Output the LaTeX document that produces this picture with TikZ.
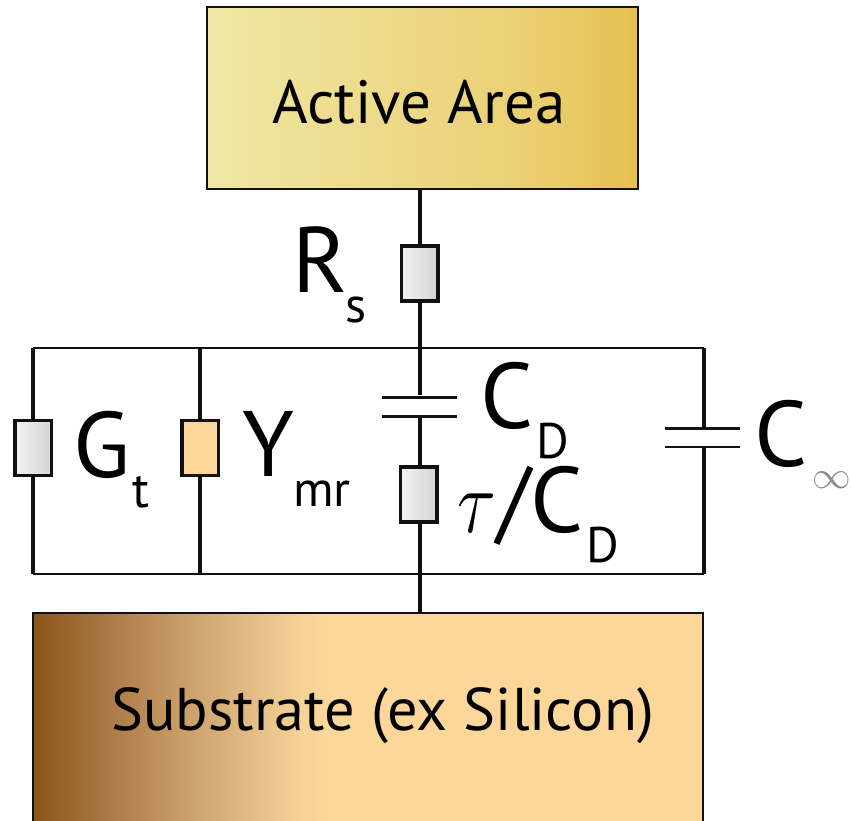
\documentclass[tikz,border=0pt]{standalone}
\usepackage{fontspec}
\setmainfont{PT Sans}
\usetikzlibrary{calc}
\definecolor{wire}{HTML}{111111}
\definecolor{activeL}{HTML}{EFE8A6}
\definecolor{activeK}{HTML}{EFE29A}
\definecolor{activeM}{HTML}{ECD785}
\definecolor{activeN}{HTML}{EBCF72}
\definecolor{activeR}{HTML}{E6C050}
\definecolor{subL}{HTML}{8A5518}
\definecolor{subK}{HTML}{B07F4C}
\definecolor{subM}{HTML}{CFA771}
\definecolor{subN}{HTML}{F6D298}
\definecolor{subR}{HTML}{FDD79A}
\pgfdeclarehorizontalshading{activeshade}{100bp}{color(0bp)=(activeL); color(25bp)=(activeL); color(33bp)=(activeK); color(50bp)=(activeM); color(62.5bp)=(activeN); color(75bp)=(activeR); color(100bp)=(activeR)}
\pgfdeclarehorizontalshading{subshade}{100bp}{color(0bp)=(subL); color(25bp)=(subL); color(31.5bp)=(subK); color(37.5bp)=(subM); color(45bp)=(subN); color(47bp)=(subR); color(100bp)=(subR)}
\newcommand{\labsub}[3]{#1\kern#2pt\raisebox{-30pt}{\fontsize{50}{50}\selectfont #3}}
\begin{document}
\begin{tikzpicture}[x=1pt,y=-1pt,
    res/.style={rectangle, draw=wire, line width=3.5pt, minimum width=36.5pt, minimum height=55pt,
      inner sep=0pt, left color=black!5, right color=black!17},
    plate/.style={rectangle, fill=wire, minimum width=75pt, minimum height=3pt, inner sep=0pt},
    lab/.style={anchor=base west, inner sep=0pt, font=\fontsize{93}{93}\selectfont},
    boxtxt/.style={anchor=base west, inner sep=0pt, font=\fontsize{61}{61}\selectfont},
    lead/.style={draw=wire, line width=4pt},
    rail/.style={draw=wire, line width=2.5pt}]
    \useasboundingbox (0,0) rectangle (852,820);
    \node[draw=wire, line width=2pt, shading=activeshade, minimum width=431pt, minimum height=182pt, inner sep=0pt] (active) at (422,97.5) {};
    \node[draw=wire, line width=2pt, shading=subshade, minimum width=670pt, minimum height=210pt, inner sep=0pt] (substrate) at (368,718) {};
    \node[boxtxt] (activetxt) at (272,123) {Active Area};
    \node[boxtxt, font=\fontsize{60.3}{60.3}\selectfont] (subtxt) at (111,730) {Substrate (ex Silicon)};
    \node[res] (Rs) at (419.5,273.5) {};
    \node[res] (Gt) at (33,448) {};
    \node[res, left color=subR, right color=subR] (Ymr) at (200,448) {};
    \node[res] (Rtau) at (418.5,494.5) {};
    \node[plate] (CDa) at (419.5,397) {};
    \node[plate, minimum height=2.5pt] (CDb) at (419.5,416.5) {};
    \node[plate] (Cia) at (702,428) {};
    \node[plate, minimum height=2.5pt] (Cib) at (702,447) {};
    \coordinate (TL) at (33,348);
    \coordinate (TM) at (200,348);
    \coordinate (TC) at (419.5,348);
    \coordinate (TR) at (704,348);
    \coordinate (BL) at (33,574);
    \coordinate (BM) at (200,574);
    \coordinate (BC) at (419.5,574);
    \coordinate (BR) at (704,574);
    \draw[rail] (TL) -- (TM) -- (TC) -- (TR);
    \draw[rail] (BL) -- (BM) -- (BC) -- (BR);
    \draw[lead] (active.south -| Rs) -- (Rs);
    \draw[lead] (Rs) -- (CDa);
    \draw[lead] (CDb) -- (CDb |- Rtau.north);
    \draw[lead] (CDb |- Rtau.south) -- (CDb |- substrate.north);
    \draw[lead] (TL) -- (Gt);
    \draw[lead] (Gt) -- (BL);
    \draw[lead] (TM) -- (Ymr);
    \draw[lead] (Ymr) -- (BM);
    \draw[lead] (TR) -- (TR |- Cia);
    \draw[lead] (TR |- Cib) -- (BR);
    \node[lab] (RsTxt) at (292,292) {\labsub{R}{-2}{s}};
    \node[lab] (GtTxt) at (73,477) {\labsub{G}{2}{t}};
    \node[lab] (YmrTxt) at (242,476) {\labsub{Y}{-1}{mr}};
    \node[lab] (CDTxt) at (480,428) {\labsub{C}{3}{D}};
    \node[lab] (tauTxt) at (457,532) {\labsub{\scalebox{2.9}[3.6]{$\tau$}\kern2pt/C}{3}{D}};
    \node[lab] (CiTxt) at (754,466) {C};
    \node[inner sep=0pt, text=black!45, scale=1.55] (infTxt) at (832,480) {\fontsize{24}{24}\selectfont$\infty$};
\end{tikzpicture}
\end{document}
